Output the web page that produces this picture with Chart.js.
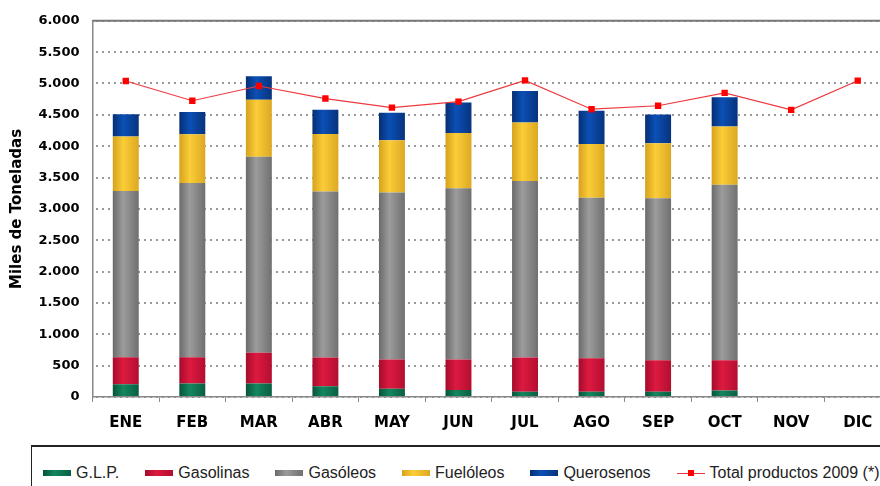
<!DOCTYPE html>
<html>
<head>
<meta charset="utf-8">
<script src="https://cdn.jsdelivr.net/npm/chart.js@4/dist/chart.umd.min.js"></script>
<style>
  html, body { margin: 0; padding: 0; background: #fff; overflow: hidden; }
  #wrap { position: relative; width: 880px; height: 486px; overflow: hidden; }
  #chart { position: absolute; left: 0; top: 0; }
  #legend {
    position: absolute; left: 31px; top: 445px; width: 900px; height: 60px;
    border-top: 2px solid #222; border-left: 1px solid #222;
    box-sizing: border-box; padding-left: 11px;
    display: flex; align-items: flex-start;
    font-family: "Liberation Sans", Arial, sans-serif;
    font-size: 16px; color: #222;
  }
  .item { display: flex; align-items: center; margin-right: 26px; height: 52px; white-space: nowrap; }
  .box { width: 28px; height: 6px; margin-right: 5px; }
  .lineKey { position: relative; width: 28px; height: 8px; margin-right: 5px; }
  .lineKey:before { content: ""; position: absolute; left: 0; right: 0; top: 3.5px; height: 1px; background: #e8383d; }
  .lineKey:after { content: ""; position: absolute; left: 11px; top: 1px; width: 6px; height: 6px; background: #f00; }
</style>
</head>
<body>
<div id="wrap">
  <canvas id="chart" width="900" height="445"></canvas>
  <div id="legend"></div>
</div>
<script>
const months = ['ENE', 'FEB', 'MAR', 'ABR', 'MAY', 'JUN', 'JUL', 'AGO', 'SEP', 'OCT', 'NOV', 'DIC'];
const glp        = [205, 215, 215, 173, 131, 110, 84, 84, 84, 105, null, null];
const gasolinas  = [430, 420, 490, 457, 467, 488, 546, 535, 504, 483, null, null];
const gasoleos   = [2650, 2777, 3128, 2646, 2662, 2730, 2813, 2557, 2582, 2798, null, null];
const fueloleos  = [870, 777, 908, 918, 834, 882, 935, 861, 877, 929, null, null];
const querosenos = [355, 357, 373, 389, 441, 488, 504, 530, 457, 467, null, null];
const total2009  = [5040, 4725, 4960, 4760, 4615, 4710, 5050, 4590, 4645, 4850, 4580, 5045];
const yTicks = [0, 500, 1000, 1500, 2000, 2500, 3000, 3500, 4000, 4500, 5000, 5500, 6000];

// edge / centre / edge colours of the shaded bars
const shades = {
    glp:   ['#07533a', '#14875e', '#0a5e42'],
    gasol: ['#a50b2b', '#dd1a40', '#b30e30'],
    gasoil:['#6a6a6a', '#9c9c9c', '#707070'],
    fuel:  ['#d6a11c', '#fbcd38', '#dca822'],
    quero: ['#062e73', '#0b50b6', '#07337d']
};

function barGradient(stops) {
    return function(ctx) {
        const chart = ctx.chart;
        const xScale = chart.scales.x;
        if (!xScale || ctx.dataIndex === undefined) return stops[1];
        const x = xScale.getPixelForValue(ctx.dataIndex);
        if (!isFinite(x)) return stops[1];
        const g = chart.ctx.createLinearGradient(x - 13, 0, x + 13, 0);
        g.addColorStop(0, stops[0]);
        g.addColorStop(0.4, stops[1]);
        g.addColorStop(1, stops[2]);
        return g;
    };
}

// dotted pattern for the horizontal grid lines
function dotPattern() {
    const c = document.createElement('canvas');
    c.width = 6; c.height = 6;
    const cx = c.getContext('2d');
    cx.fillStyle = '#9a9a9a';
    cx.fillRect(0, 0, 2, 6);
    return cx.createPattern(c, 'repeat');
}

function fmt(v) {
    return String(v).replace(/\B(?=(\d{3})+(?!\d))/g, '.');
}

// solid line along the top of the plot (6.000)
const topLine = {
    id: 'topLine',
    beforeDatasetsDraw(chart) {
        const {ctx, chartArea} = chart;
        ctx.save();
        ctx.strokeStyle = '#777';
        ctx.lineWidth = 2;
        ctx.beginPath();
        ctx.moveTo(chartArea.left, chartArea.top);
        ctx.lineTo(chartArea.right, chartArea.top);
        ctx.stroke();
        ctx.restore();
    }
};

const barDefaults = { type: 'bar', order: 1, borderWidth: 0, barPercentage: 0.39, categoryPercentage: 1 };

new Chart(document.getElementById('chart'), {
    data: {
        labels: months,
        datasets: [
            {
                type: 'line', label: 'Total productos 2009 (*)', data: total2009, order: 0, stack: 'total',
                borderColor: '#ee3a3f', borderWidth: 1.2, pointStyle: 'rect', pointRadius: 4.5,
                pointBackgroundColor: '#ff0000', pointBorderColor: '#ff0000', pointBorderWidth: 0, tension: 0
            },
            Object.assign({ label: 'G.L.P.', data: glp, backgroundColor: barGradient(shades.glp) }, barDefaults),
            Object.assign({ label: 'Gasolinas', data: gasolinas, backgroundColor: barGradient(shades.gasol) }, barDefaults),
            Object.assign({ label: 'Gasóleos', data: gasoleos, backgroundColor: barGradient(shades.gasoil) }, barDefaults),
            Object.assign({ label: 'Fuelóleos', data: fueloleos, backgroundColor: barGradient(shades.fuel) }, barDefaults),
            Object.assign({ label: 'Querosenos', data: querosenos, backgroundColor: barGradient(shades.quero) }, barDefaults)
        ]
    },
    options: {
        responsive: false,
        animation: false,
        devicePixelRatio: 1,
        layout: { padding: { left: 4, top: 16, right: 9, bottom: 0 } },
        plugins: { legend: { display: false }, tooltip: { enabled: false } },
        scales: {
            x: {
                stacked: true,
                grid: { drawOnChartArea: false, drawTicks: true, tickLength: 5, color: '#888', offset: true },
                border: { color: '#888', width: 1.5 },
                ticks: { color: '#000', padding: 12, font: { family: 'DejaVu Sans', weight: 'bold', size: 15 } },
                afterFit(scale) { scale.height = 48; }
            },
            y: {
                stacked: true,
                min: 0, max: 6000,
                afterBuildTicks(scale) { scale.ticks = yTicks.map(v => ({ value: v })); },
                grid: { color: dotPattern(), lineWidth: 2, drawTicks: false },
                border: { color: '#888', width: 1.5 },
                ticks: {
                    color: '#000', padding: 13,
                    font: { family: 'DejaVu Sans', weight: 'bold', size: 13 },
                    callback: v => fmt(v)
                },
                title: {
                    display: true, text: 'Miles de Toneladas', color: '#000',
                    font: { family: 'DejaVu Sans', weight: 'bold', size: 15 }
                },
                afterFit(scale) { scale.width = 88.5; }
            }
        }
    },
    plugins: [topLine]
});

// legend under the chart
const legendItems = [
    ['G.L.P.', shades.glp], ['Gasolinas', shades.gasol], ['Gasóleos', shades.gasoil],
    ['Fuelóleos', shades.fuel], ['Querosenos', shades.quero]
];
const legend = document.getElementById('legend');
legendItems.forEach(([name, s]) => {
    const item = document.createElement('div');
    item.className = 'item';
    item.innerHTML = '<span class="box" style="background:linear-gradient(to right,' + s[0] + ',' + s[1] + ' 40%,' + s[2] + ')"></span>' + name;
    legend.appendChild(item);
});
const lineItem = document.createElement('div');
lineItem.className = 'item';
lineItem.innerHTML = '<span class="lineKey"></span>Total productos 2009 (*)';
legend.appendChild(lineItem);
</script>
</body>
</html>
